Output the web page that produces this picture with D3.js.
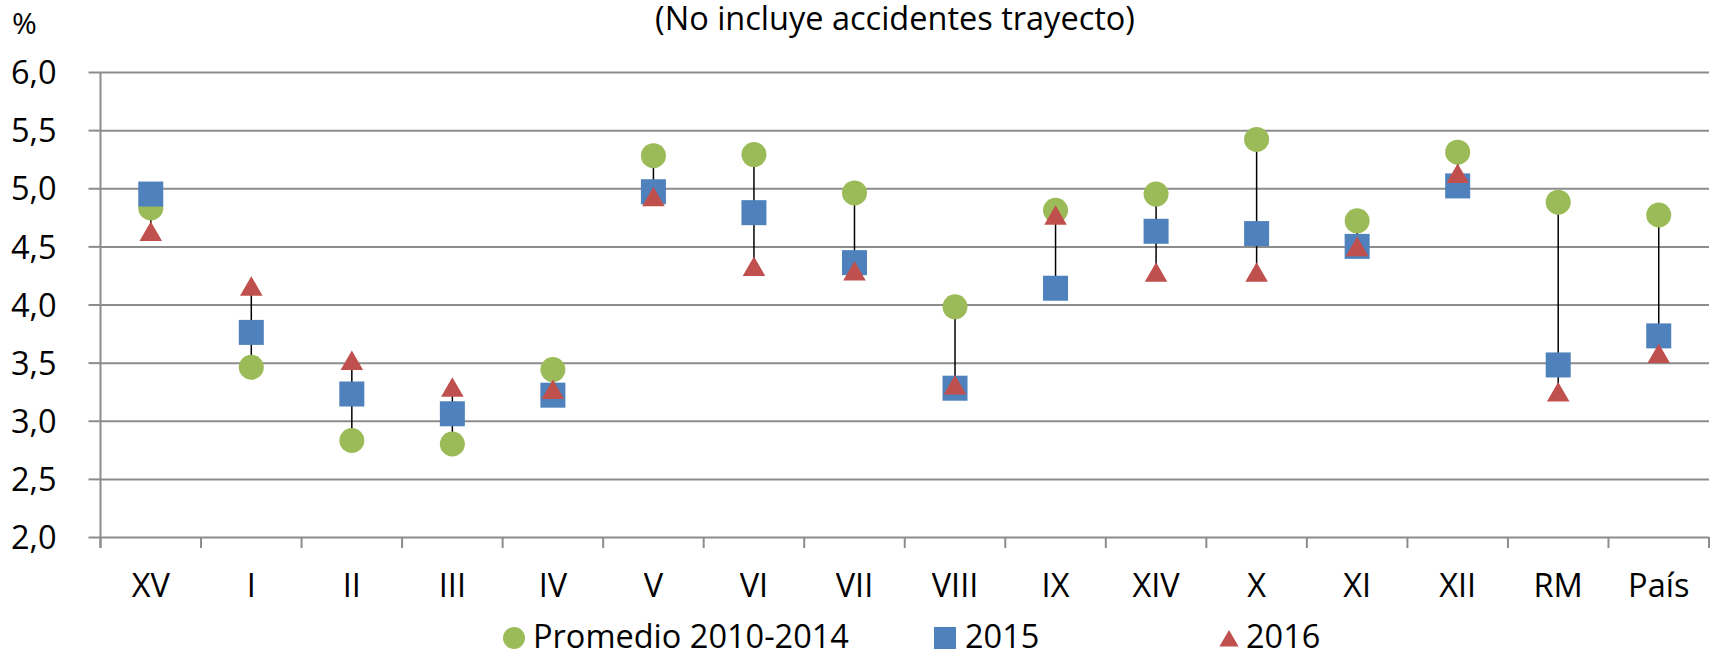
<!DOCTYPE html>
<html>
<head>
<meta charset="utf-8">
<script src="https://cdn.jsdelivr.net/npm/d3@7"></script>
<style>
  body { margin: 0; background: #fff; }
  svg text { font-family: "Open Sans", sans-serif; fill: #000; }
</style>
</head>
<body>
<div id="chart"></div>
<script>
// data
var regions = ['XV', 'I', 'II', 'III', 'IV', 'V', 'VI', 'VII', 'VIII', 'IX', 'XIV', 'X', 'XI', 'XII', 'RM', 'País'];
var promedio = [4.83, 3.46, 2.83, 2.80, 3.44, 5.28, 5.29, 4.96, 3.98, 4.81, 4.95, 5.42, 4.72, 5.31, 4.88, 4.77];
var y2015 = [4.95, 3.76, 3.23, 3.06, 3.22, 4.97, 4.79, 4.36, 3.28, 4.14, 4.63, 4.61, 4.50, 5.02, 3.48, 3.73];
var y2016 = [4.63, 4.16, 3.52, 3.29, 3.27, 4.93, 4.33, 4.29, 3.31, 4.77, 4.28, 4.28, 4.50, 5.13, 3.25, 3.58];
var yTicks = [2.0, 2.5, 3.0, 3.5, 4.0, 4.5, 5.0, 5.5, 6.0];
var legendNames = ['Promedio 2010-2014', '2015', '2016'];

(function() {
  var W = 1714, H = 657;
  var mLeft = 100.5, mRight = 1709, mTop = 72, mBottom = 537;
  var fs = '32.5px';

  var green = '#9BBB59', blue = '#4F81BD', red = '#C0504D', grid = '#8c8c8c';

  var svg = d3.select('#chart').append('svg')
    .attr('width', W)
    .attr('height', H);

  var x = d3.scaleBand().domain(regions).range([mLeft, mRight]).padding(0);
  var y = d3.scaleLinear().domain([2, 6]).range([mBottom, mTop]);
  var cx = function(d) { return x(d) + x.bandwidth() / 2; };

  // title and unit
  svg.append('text')
    .attr('x', 895).attr('y', 30)
    .attr('text-anchor', 'middle')
    .style('font-size', fs)
    .text('(No incluye accidentes trayecto)');

  svg.append('text')
    .attr('x', 12).attr('y', 34)
    .style('font-size', '30px')
    .text('%');

  // y axis with gridlines
  var yAxis = d3.axisLeft(y)
    .tickValues(yTicks)
    .tickSize(-(mRight - mLeft))
    .tickPadding(44)
    .tickFormat(function(d) { return d.toFixed(1).replace('.', ','); });

  var yg = svg.append('g')
    .attr('transform', 'translate(' + mLeft + ',0)')
    .call(yAxis);
  yg.select('.domain').remove();
  yg.selectAll('.tick line').attr('stroke', grid).attr('stroke-width', 2);
  yg.selectAll('.tick text').style('font-size', fs).attr('dy', '0.36em');

  // small outer ticks on the left
  yg.selectAll('.tick').append('line')
    .attr('x1', -12).attr('x2', 0)
    .attr('stroke', grid).attr('stroke-width', 2);

  // y axis line
  svg.append('line')
    .attr('x1', mLeft).attr('x2', mLeft)
    .attr('y1', mTop).attr('y2', mBottom + 11)
    .attr('stroke', grid).attr('stroke-width', 2);

  // category ticks between bands
  var bounds = regions.map(function(d) { return x(d); }).concat([mRight]);
  svg.append('g').selectAll('line')
    .data(bounds)
    .enter().append('line')
    .attr('x1', function(d) { return d; })
    .attr('x2', function(d) { return d; })
    .attr('y1', mBottom)
    .attr('y2', mBottom + 11)
    .attr('stroke', grid).attr('stroke-width', 2);

  // category labels
  svg.append('g').selectAll('text')
    .data(regions)
    .enter().append('text')
    .attr('x', cx)
    .attr('y', 597)
    .attr('text-anchor', 'middle')
    .style('font-size', fs)
    .text(function(d) { return d; });

  // high-low lines
  svg.append('g').selectAll('line')
    .data(regions)
    .enter().append('line')
    .attr('x1', cx).attr('x2', cx)
    .attr('y1', function(d, i) { return y(Math.max(promedio[i], y2015[i], y2016[i])); })
    .attr('y2', function(d, i) { return y(Math.min(promedio[i], y2015[i], y2016[i])); })
    .attr('stroke', '#000').attr('stroke-width', 1.5);

  // promedio circles
  svg.append('g').selectAll('circle')
    .data(promedio)
    .enter().append('circle')
    .attr('cx', function(d, i) { return cx(regions[i]); })
    .attr('cy', function(d) { return y(d); })
    .attr('r', 12.5)
    .attr('fill', green);

  // 2015 squares
  svg.append('g').selectAll('rect')
    .data(y2015)
    .enter().append('rect')
    .attr('x', function(d, i) { return cx(regions[i]) - 12.5; })
    .attr('y', function(d) { return y(d) - 12.5; })
    .attr('width', 25).attr('height', 25)
    .attr('fill', blue);

  // 2016 triangles (centred on their box like Excel, not on the centroid)
  var triSize = 220;
  var triH = Math.sqrt(triSize * Math.sqrt(3));   // height of d3's triangle
  var tri = d3.symbol().type(d3.symbolTriangle).size(triSize);
  svg.append('g').selectAll('path')
    .data(y2016)
    .enter().append('path')
    .attr('d', tri)
    .attr('transform', function(d, i) {
      return 'translate(' + cx(regions[i]) + ',' + (y(d) + triH / 6) + ')';
    })
    .attr('fill', red);

  // legend
  var lg = svg.append('g');
  lg.append('circle').attr('cx', 514).attr('cy', 638).attr('r', 11).attr('fill', green);
  lg.append('text').attr('x', 533).attr('y', 648).style('font-size', fs).text(legendNames[0]);
  lg.append('rect').attr('x', 934).attr('y', 627).attr('width', 22).attr('height', 22).attr('fill', blue);
  lg.append('text').attr('x', 965).attr('y', 648).style('font-size', fs).text(legendNames[1]);
  lg.append('path').attr('d', d3.symbol().type(d3.symbolTriangle).size(160))
    .attr('transform', 'translate(1229,641)').attr('fill', red);
  lg.append('text').attr('x', 1246).attr('y', 648).style('font-size', fs).text(legendNames[2]);
})();
</script>
</body>
</html>
